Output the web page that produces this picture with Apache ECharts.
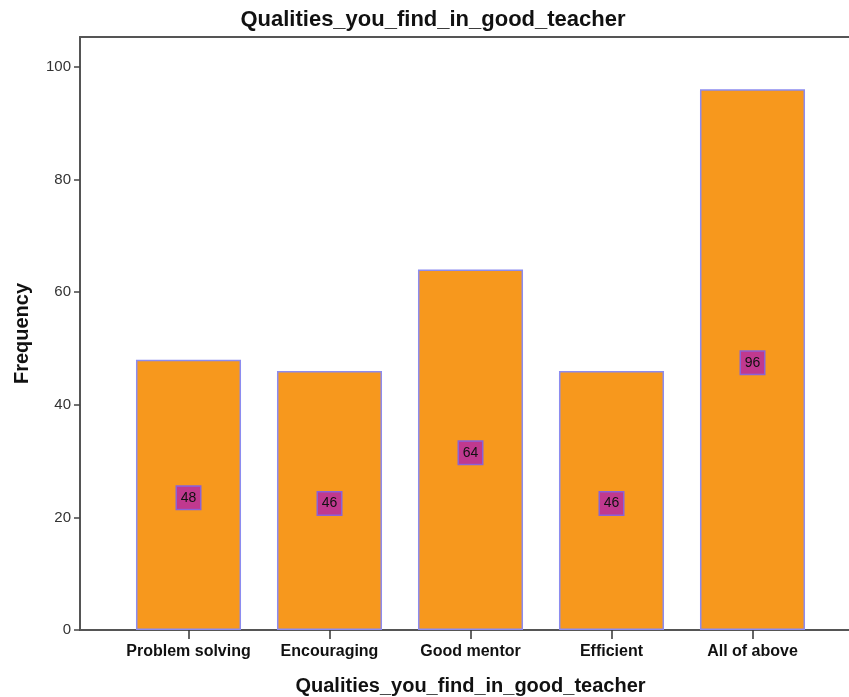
<!DOCTYPE html>
<html>
<head>
<meta charset="utf-8">
<script src="https://cdn.jsdelivr.net/npm/echarts@6/dist/echarts.min.js"></script>
<style>html,body{margin:0;padding:0;background:#fff}#c{width:849px;height:697px}</style>
</head>
<body>
<div id="c"></div>
<script>
const chartTitle = 'Qualities_you_find_in_good_teacher';
const categories = ['Problem solving', 'Encouraging', 'Good mentor', 'Efficient', 'All of above'];
const frequency = [48, 46, 64, 46, 96];
const yTicks = [0, 20, 40, 60, 80, 100];
const yAxisName = 'Frequency';

const chart = echarts.init(document.getElementById('c'), null, {renderer: 'canvas'});
const font = 'Liberation Sans, Arial, sans-serif';
const frameLine = {show: true, lineStyle: {color: '#555', width: 2}};
chart.setOption({
  animation: false,
  backgroundColor: '#ffffff',
  title: {
    text: chartTitle,
    left: 428, top: 4, textAlign: 'center',
    textStyle: {fontFamily: font, fontSize: 22, fontWeight: 'bold', color: '#111'}
  },
  grid: [
    {left: 118, right: 26, top: 37, bottom: 67, containLabel: false, outerBoundsMode: 'none'},
    {left: 80, right: 0, top: 37, bottom: 67, show: false, containLabel: false, outerBoundsMode: 'none'}
  ],
  xAxis: [
    {
      type: 'category', gridIndex: 0, data: categories,
      axisLine: {show: false},
      axisTick: {show: true, alignWithLabel: true, length: 9, lineStyle: {color: '#333', width: 1.5}},
      axisLabel: {interval: 0, fontFamily: font, fontSize: 16, fontWeight: 'bold', color: '#111', margin: 14},
      name: chartTitle, nameLocation: 'middle', nameGap: 46,
      nameTextStyle: {fontFamily: font, fontSize: 20, fontWeight: 'bold', color: '#111'}
    },
    {type: 'value', gridIndex: 1, position: 'bottom', min: 0, max: 1,
     axisLine: frameLine, axisTick: {show: false}, axisLabel: {show: false}, splitLine: {show: false}},
    {type: 'value', gridIndex: 1, position: 'top', min: 0, max: 1,
     axisLine: frameLine, axisTick: {show: false}, axisLabel: {show: false}, splitLine: {show: false}}
  ],
  yAxis: [
    {
      type: 'value', gridIndex: 0, min: 0, max: 105.3, interval: 20, offset: 38,
      axisLine: frameLine,
      axisTick: {show: true, length: 6, lineStyle: {color: '#444', width: 1.5}, customValues: yTicks},
      axisLabel: {fontFamily: font, fontSize: 15, color: '#333', margin: 9, customValues: yTicks},
      splitLine: {show: false},
      name: yAxisName, nameLocation: 'middle', nameGap: 48,
      nameTextStyle: {fontFamily: font, fontSize: 20, fontWeight: 'bold', color: '#111'}
    },
    {type: 'value', gridIndex: 1, show: false, min: 0, max: 105.3}
  ],
  series: [{
    type: 'bar', xAxisIndex: 0, yAxisIndex: 0,
    data: frequency,
    barCategoryGap: '25.5%',
    itemStyle: {color: '#F7981D', borderColor: '#8C8CF0', borderWidth: 1.5},
    label: {
      show: true, position: 'inside', offset: [0, 3],
      fontFamily: font, fontSize: 14, color: '#111',
      backgroundColor: '#C0398F', borderColor: '#8A62D8', borderWidth: 1.5,
      padding: [5, 3, 3, 3], width: 17, align: 'center'
    }
  }]
});
</script>
</body>
</html>
